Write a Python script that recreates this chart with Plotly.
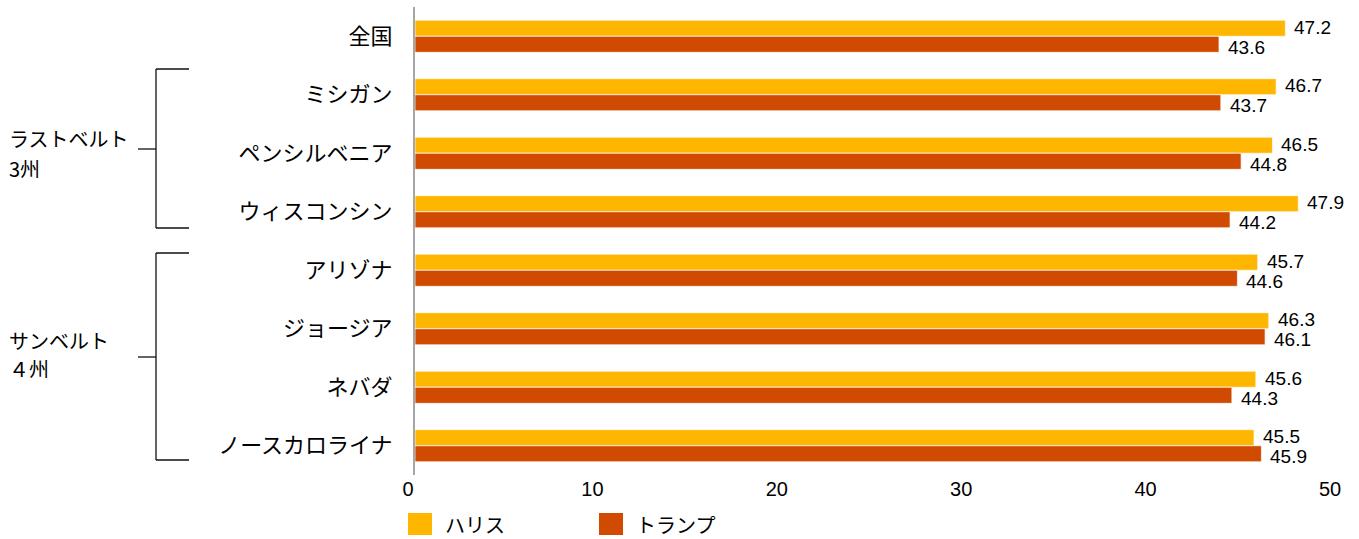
import plotly.graph_objects as go

categories = ["全国", "ミシガン", "ペンシルベニア", "ウィスコンシン", "アリゾナ", "ジョージア", "ネバダ", "ノースカロライナ"]
harris = [47.2, 46.7, 46.5, 47.9, 45.7, 46.3, 45.6, 45.5]
trump = [43.6, 43.7, 44.8, 44.2, 44.6, 46.1, 44.3, 45.9]
series_names = ["ハリス", "トランプ"]
x_ticks = [0, 10, 20, 30, 40, 50]
group_labels = [("ラストベルト", "3州"), ("サンベルト", "４州")]

# ---- styling / layout constants (pixels) ----
W, H = 1359, 539
L, R, T, B = 415, 22, 7, 64
pw, ph = W - L - R, H - T - B
FONT = "Liberation Sans, Arial, Noto Sans CJK JP, sans-serif"
JFONT = "Noto Sans CJK JP, sans-serif"
colors = ["#FFB600", "#D04A02"]
label_yshift = [9, -11]  # value label offsets per series
# bracket geometry: (top y, bottom y, mid y, label line1 y, label line2 y)
brackets = [(69, 228, 149, 138, 168), (253, 460, 357, 340, 368)]
legend_items = [(408, 513), (599, 513)]  # swatch left, top


def px(x):
    return (x - L) / pw


def py(y):
    return (H - B - y) / ph


fig = go.Figure()
annotations = []
for name, vals, c, ys in zip(series_names, [harris, trump], colors, label_yshift):
    fig.add_trace(go.Bar(
        y=categories, x=vals, name=name, orientation="h",
        marker=dict(color=c, line=dict(color="rgba(255,255,255,0.7)", width=1)),
        showlegend=False,
    ))
    for cat, v in zip(categories, vals):
        annotations.append(dict(xref="x", yref="y", x=v, y=cat, text=f"{v:.1f}",
                                showarrow=False, xanchor="left", yanchor="middle",
                                xshift=8, yshift=ys, borderpad=0,
                                font=dict(size=19, color="#000000", family=FONT)))

shapes = []
for (l1, l2), (yt, yb, ym, t1, t2) in zip(group_labels, brackets):
    xv, xr, xl = 156, 189, 138
    for (x0, y0, x1, y1) in [(xv, yt, xr, yt), (xv, yt, xv, yb), (xv, yb, xr, yb), (xl, ym, xv, ym)]:
        shapes.append(dict(type="line", xref="paper", yref="paper",
                           x0=px(x0), y0=py(y0), x1=px(x1), y1=py(y1),
                           line=dict(color="#111111", width=1.3)))
    for txt, ty in [(l1, t1), (l2, t2)]:
        annotations.append(dict(xref="paper", yref="paper", x=px(7), y=py(ty),
                                text=txt, showarrow=False, xanchor="left", yanchor="middle",
                                font=dict(size=20, color="#000000", family=JFONT)))

# manual legend (large square swatches)
for name, c, (sx, sy) in zip(series_names, colors, legend_items):
    shapes.append(dict(type="rect", xref="paper", yref="paper",
                       x0=px(sx), x1=px(sx + 24), y0=py(sy), y1=py(sy + 22),
                       fillcolor=c, line=dict(width=0)))
    annotations.append(dict(xref="paper", yref="paper", x=px(sx + 35), y=py(sy + 11),
                            text=name, showarrow=False, xanchor="left", yanchor="middle",
                            font=dict(size=20, color="#000000", family=JFONT)))

fig.update_layout(
    width=W, height=H,
    margin=dict(l=L, r=R, t=T, b=B, autoexpand=False),
    paper_bgcolor="white", plot_bgcolor="white",
    barmode="group", bargap=0.45, bargroupgap=0.0,
    font=dict(family=FONT, size=20, color="#000000"),
    showlegend=False,
    xaxis=dict(range=[0, 50], tickvals=x_ticks, showgrid=False, zeroline=False,
               showline=False, ticks="", tickfont=dict(size=20, family=FONT),
               ticklabelshift=-7, ticklabelstandoff=0),
    yaxis=dict(autorange="reversed", showgrid=False, zeroline=False,
               showline=True, linecolor="#A6A6A6", linewidth=2, ticks="",
               ticklabelstandoff=16, tickfont=dict(size=22, family=JFONT)),
    shapes=shapes, annotations=annotations,
)

fig.write_html("out.html")
